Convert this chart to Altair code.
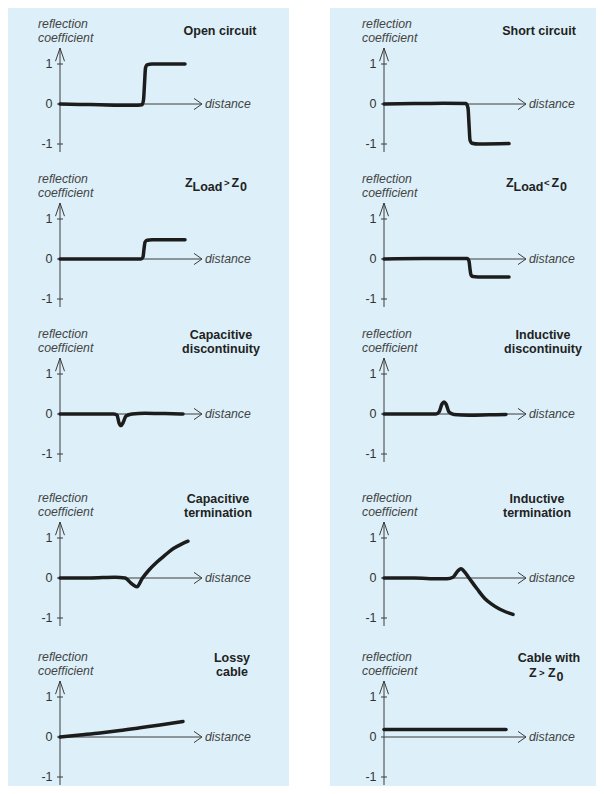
import altair as alt
import pandas as pd

FONT = "Liberation Sans"

# ---------------- data ----------------
names = ["open", "short", "zgt", "zlt", "capdisc", "inddisc", "capterm", "indterm", "lossy", "cablez"]

open_x = [0, 2, 4, 6, 7.8, 8.2, 8.35, 8.45, 8.55, 8.7, 9.2, 12.5]
open_y = [0, -0.01, -0.02, -0.03, -0.03, -0.02, 0.1, 0.5, 0.9, 0.98, 1.0, 1.0]

short_x = [0, 3, 6, 8.2, 8.4, 8.5, 8.6, 8.8, 9.5, 12.5]
short_y = [0, 0.01, 0.02, 0.01, -0.1, -0.5, -0.9, -0.98, -1.0, -0.99]

zgt_x = [0, 4, 8.1, 8.3, 8.4, 8.5, 8.7, 9.2, 12.5]
zgt_y = [0, 0, 0, 0.05, 0.25, 0.42, 0.47, 0.48, 0.48]

zlt_x = [0, 4, 8.3, 8.5, 8.6, 8.7, 8.9, 9.4, 12.5]
zlt_y = [0, 0.01, 0.01, -0.05, -0.25, -0.4, -0.44, -0.45, -0.45]

capdisc_x = [0, 3, 5.4, 5.7, 5.9, 6.1, 6.3, 6.6, 7.2, 8.5, 10.5, 12.3]
capdisc_y = [0, 0, 0, -0.03, -0.22, -0.29, -0.22, -0.05, 0.0, 0.02, 0.01, 0.0]

inddisc_x = [0, 3, 5.2, 5.5, 5.8, 6.0, 6.2, 6.5, 7.0, 8.5, 10.5, 12.2]
inddisc_y = [0, 0, 0, 0.05, 0.25, 0.3, 0.25, 0.05, -0.01, -0.03, -0.02, -0.01]

capterm_x = [0, 3, 5.5, 6.5, 7.2, 7.7, 8.2, 8.9, 9.7, 10.5, 11.3, 12.1, 12.8]
capterm_y = [0, 0, 0.02, 0.0, -0.15, -0.22, -0.02, 0.2, 0.4, 0.57, 0.73, 0.84, 0.92]

indterm_x = [0, 3, 5.5, 6.3, 6.9, 7.4, 7.7, 8.0, 8.5, 9.3, 10.1, 10.8, 11.5, 12.2, 12.9]
indterm_y = [0, 0, -0.02, -0.02, 0.02, 0.18, 0.23, 0.17, 0.0, -0.27, -0.52, -0.66, -0.77, -0.85, -0.91]

lossy_x = [0, 2, 4, 6, 8, 10, 12.3]
lossy_y = [0, 0.05, 0.1, 0.16, 0.23, 0.3, 0.39]

cablez_x = [0, 12.2]
cablez_y = [0.19, 0.19]

curves = {
    "open": (open_x, open_y), "short": (short_x, short_y),
    "zgt": (zgt_x, zgt_y), "zlt": (zlt_x, zlt_y),
    "capdisc": (capdisc_x, capdisc_y), "inddisc": (inddisc_x, inddisc_y),
    "capterm": (capterm_x, capterm_y), "indterm": (indterm_x, indterm_y),
    "lossy": (lossy_x, lossy_y), "cablez": (cablez_x, cablez_y),
}

titles = {
    "open": ["Open circuit"], "short": ["Short circuit"],
    "capdisc": ["Capacitive", "discontinuity"], "inddisc": ["Inductive", "discontinuity"],
    "capterm": ["Capacitive", "termination"], "indterm": ["Inductive", "termination"],
    "lossy": ["Lossy", "cable"], "cablez": ["Cable with"],
}
# subscripted titles: (text, subscript?)
rich_titles = {
    "zgt": [("Z", False), ("Load", True), (">", None), ("Z", False), ("0", True)],
    "zlt": [("Z", False), ("Load", True), ("<", None), ("Z", False), ("0", True)],
    "cablez": [("Z", False), (">", None), ("Z", False), ("0", True)],
}

tick_values = [1, 0, -1]
tick_labels = ["1", "0", "-1"]
ylabel_lines = ["reflection", "coefficient"]
xlabel = "distance"

# ---------------- layout ----------------
PXU = 40.0           # px per unit of reflection coefficient
XU = 10.0            # px per unit of distance
ROW_H = [155, 155, 160, 160, 148]
ROW_Z = [96, 96, 96, 100, 99]
COL_W = [281, 266]
COL_XDOM = [(-5.2, -5.2 + 281 / XU), (-5.4, -5.4 + 266 / XU)]
TITLE_CX = {"open": 16.0, "short": 15.5, "capdisc": 16.1, "inddisc": 15.9,
            "capterm": 15.8, "indterm": 15.3, "lossy": 17.2, "cablez": 16.5}
RICH_START = {"zgt": 12.5, "zlt": 12.2, "cablez": 14.5}
RICH_OFFS = {"zgt": [0, 7.5, 39, 46.5, 55], "zlt": [0, 7.5, 38, 45.5, 54], "cablez": [0, 10, 19, 27.5]}

BG = "#ddf0f9"
AX = "#3c3c3c"


def panel(name, row, col):
    h = ROW_H[row]
    z = ROW_Z[row]
    ydom = (-(h - z) / PXU, z / PXU)
    xdom = COL_XDOM[col]
    xs = alt.Scale(domain=list(xdom), nice=False, zero=False)
    ys = alt.Scale(domain=list(ydom), nice=False, zero=False)
    X = lambda f="x": alt.X(f"{f}:Q", scale=xs, axis=None)
    Y = lambda f="y": alt.Y(f"{f}:Q", scale=ys, axis=None)

    segs = [
        (0, -1.2, 0, 1.4),
        (0, 1.4, -0.45, 1.07), (0, 1.4, 0.45, 1.07),
        (0, 0, 14.2, 0),
        (14.2, 0, 13.4, 0.14), (14.2, 0, 13.4, -0.14),
        (-0.3, 1, 0.3, 1), (-0.3, -1, 0.3, -1), (-0.3, 0, 0, 0),
    ]
    seg_df = pd.DataFrame(segs, columns=["x", "y", "x2", "y2"])
    axes = alt.Chart(seg_df).mark_rule(color=AX, strokeWidth=1).encode(
        x=X(), y=Y(), x2="x2:Q", y2="y2:Q")

    tl_df = pd.DataFrame({"x": [-0.75] * 3, "y": tick_values, "t": tick_labels})
    tlab = alt.Chart(tl_df).mark_text(align="right", baseline="middle", font=FONT,
                                      fontSize=12.5, color="#333").encode(x=X(), y=Y(), text="t:N")

    yl_df = pd.DataFrame({"x": [-2.2, -2.2], "y": [2.0, 1.65], "t": ylabel_lines})
    ylab = alt.Chart(yl_df).mark_text(align="left", baseline="middle", font=FONT, fontSize=12.3,
                                      fontStyle="italic", color="#444").encode(x=X(), y=Y(), text="t:N")

    xl_df = pd.DataFrame({"x": [14.5], "y": [0], "t": [xlabel]})
    xlab = alt.Chart(xl_df).mark_text(align="left", baseline="middle", font=FONT, fontSize=12.3,
                                      fontStyle="italic", color="#444").encode(x=X(), y=Y(), text="t:N")

    layers = [axes, tlab, ylab, xlab]

    if name in titles:
        lines = titles[name]
        if len(lines) == 1 and name not in rich_titles:
            ty = [1.83]
        else:
            ty = [1.97, 1.62]
        t_df = pd.DataFrame({"x": [TITLE_CX[name]] * len(lines), "y": ty[:len(lines)], "t": lines})
        layers.append(alt.Chart(t_df).mark_text(align="center", baseline="middle", font=FONT,
                                                fontSize=12.5, fontWeight="bold", color="#222").encode(
            x=X(), y=Y(), text="t:N"))

    if name in rich_titles:
        segs_t = rich_titles[name]
        base_y = 1.6 if name == "cablez" else 1.89
        rows = []
        for (txt, sub), off in zip(segs_t, RICH_OFFS[name]):
            yy = base_y - 0.09 if sub else base_y
            size = 9.5 if sub is None else 12.5
            rows.append({"x": RICH_START[name] + off / XU, "y": yy, "t": txt, "s": size})
        r_df = pd.DataFrame(rows)
        for s in sorted(r_df["s"].unique()):
            layers.append(alt.Chart(r_df[r_df["s"] == s]).mark_text(
                align="left", baseline="middle", font=FONT, fontSize=float(s), fontWeight="bold",
                color="#222").encode(x=X(), y=Y(), text="t:N"))

    cx, cy = curves[name]
    c_df = pd.DataFrame({"x": cx, "y": cy})
    line = alt.Chart(c_df).mark_line(color="#1c1c1c", strokeWidth=3.5, interpolate="monotone",
                                     strokeCap="round").encode(x=X(), y=Y())
    layers.append(line)

    return alt.layer(*layers).properties(width=COL_W[col], height=h)


left = [panel(n, i, 0) for i, n in enumerate(names[0::2])]
right = [panel(n, i, 1) for i, n in enumerate(names[1::2])]

chart = alt.hconcat(
    alt.vconcat(*left, spacing=0),
    alt.vconcat(*right, spacing=0),
    spacing=41,
).properties(padding=0, background="white").configure_view(stroke=None, fill=BG)

chart.save("out.html", embed_options={"renderer": "svg", "actions": False})
